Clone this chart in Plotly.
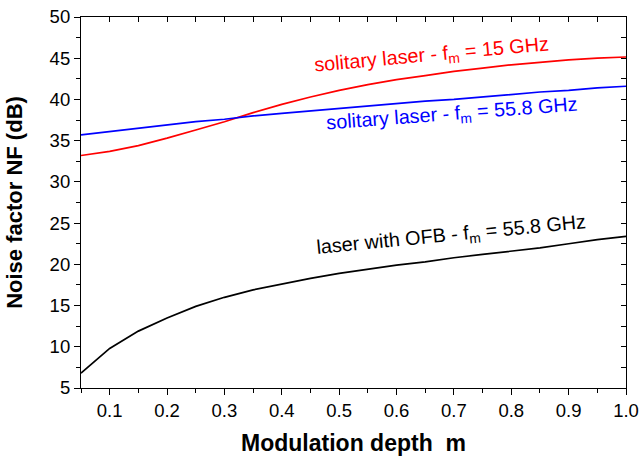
import plotly.graph_objects as go

m = [0.05, 0.10, 0.15, 0.20, 0.25, 0.30, 0.35, 0.40, 0.45, 0.50,
     0.55, 0.60, 0.65, 0.70, 0.75, 0.80, 0.85, 0.90, 0.95, 1.00]
nf_solitary_15 = [33.2, 33.7, 34.4, 35.3, 36.3, 37.3, 38.4, 39.4, 40.3, 41.1,
                  41.8, 42.4, 42.9, 43.4, 43.8, 44.2, 44.5, 44.8, 45.0, 45.15]
nf_solitary_558 = [35.7, 36.1, 36.5, 36.9, 37.3, 37.6, 38.0, 38.3, 38.6, 38.9,
                   39.2, 39.5, 39.8, 40.0, 40.3, 40.6, 40.9, 41.1, 41.4, 41.6]
nf_ofb_558 = [6.8, 9.8, 11.9, 13.5, 14.9, 16.0, 16.9, 17.6, 18.3, 18.9,
              19.4, 19.9, 20.3, 20.8, 21.2, 21.6, 22.0, 22.5, 23.0, 23.4]

labels = ["solitary laser - f<sub>m</sub> = 15 GHz",
          "solitary laser - f<sub>m</sub> = 55.8 GHz",
          "laser with OFB - f<sub>m</sub> = 55.8 GHz"]
colors = ["#ff0000", "#0000ff", "#000000"]

FONT = "Liberation Sans, Arial, sans-serif"

L, R, T, B = 81, 626, 17, 388
W, H = 639, 459

fig = go.Figure()
for ys, c in zip([nf_solitary_15, nf_solitary_558, nf_ofb_558], colors):
    fig.add_trace(go.Scatter(x=m, y=ys, mode="lines",
                             line=dict(color=c, width=1.7), showlegend=False))
# invisible trace to anchor mirror axes
fig.add_trace(go.Scatter(x=[m[0]], y=[nf_ofb_558[0]], xaxis="x2", yaxis="y2",
                         mode="markers", marker=dict(opacity=0), showlegend=False,
                         hoverinfo="skip"))

ann_pos = [(431, 56, -5.2), (452, 114, -4.3), (451, 235, -5.5)]
for txt, c, (px, py, ang) in zip(labels, colors, ann_pos):
    fig.add_annotation(text=txt, xref="paper", yref="paper",
                       x=(px - L) / (R - L), y=(B - py) / (B - T),
                       xanchor="center", yanchor="middle",
                       showarrow=False, textangle=ang,
                       font=dict(family=FONT, size=19.8, color=c))

xr = [0.05, 1.0]
yr = [5, 50]
fig.update_layout(
    width=W, height=H,
    margin=dict(l=L, r=W - R, t=T, b=H - B, autoexpand=False),
    paper_bgcolor="white", plot_bgcolor="white",
    font=dict(family=FONT, size=18, color="black"),
    xaxis=dict(range=xr, dtick=0.1, tick0=0, tickformat=".1f",
               ticks="outside", ticklen=6, tickwidth=1, tickcolor="black",
               minor=dict(dtick=0.05, ticks="outside", ticklen=4, tickcolor="black"),
               showline=True, linecolor="black", linewidth=1.2,
               showgrid=False, zeroline=False, automargin=False,
               tickfont=dict(size=18.5),
               title=dict(text="<b>Modulation depth&nbsp;&nbsp;m</b>", font=dict(size=23), standoff=14)),
    yaxis=dict(range=yr, dtick=5, tick0=0,
               ticks="outside", ticklen=6, tickwidth=1, tickcolor="black",
               minor=dict(dtick=2.5, ticks="outside", ticklen=4, tickcolor="black"),
               showline=True, linecolor="black", linewidth=1.2,
               showgrid=False, zeroline=False, automargin=False,
               tickfont=dict(size=18.5),
               title=dict(text="<b>Noise factor NF (dB)</b>", font=dict(size=22), standoff=20)),
    xaxis2=dict(range=xr, overlaying="x", side="top", anchor="y2",
                dtick=0.05, tick0=0, ticks="inside", ticklen=5, tickcolor="black",
                showticklabels=False, showline=True, linecolor="black", linewidth=1.2,
                showgrid=False, zeroline=False, automargin=False),
    yaxis2=dict(range=yr, overlaying="y", side="right", anchor="x2",
                dtick=2.5, tick0=0, ticks="inside", ticklen=5, tickcolor="black",
                showticklabels=False, showline=True, linecolor="black", linewidth=1.2,
                showgrid=False, zeroline=False, automargin=False),
)

fig.write_html("out.html")
